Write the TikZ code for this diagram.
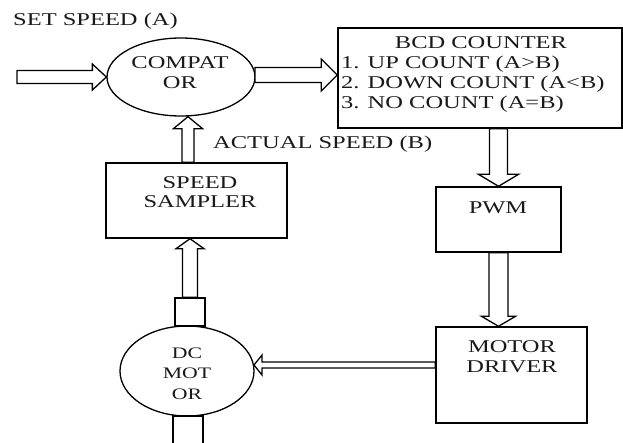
\documentclass[tikz,border=0pt]{standalone}
\usepackage{fontspec}
\setmainfont{Liberation Serif}[FakeStretch=1.36]
\usetikzlibrary{calc,shapes.geometric}
\tikzset{
  box/.style={draw=black, line width=1.4pt, rectangle, inner sep=0pt},
  oval/.style={draw=black, line width=1.3pt, ellipse, inner sep=0pt},
  lbl/.style={inner sep=0pt, anchor=base, text=black!90, font=\fontsize{18}{20}\selectfont},
  lblw/.style={lbl, anchor=base west},
  lbls/.style={lbl, font=\fontsize{16}{20}\selectfont},
  hollow/.style={draw=black, line width=1.3pt, line join=miter, fill=white},
}
\newcommand\hollowarrow[5]{%
  \coordinate (hb) at ($(#2)!#5!(#1)$);
  \draw[hollow] ($(#1)!#3!90:(#2)$) -- ($(hb)!#3!90:(#2)$) -- ($(hb)!#4!90:(#2)$) -- (#2)
    -- ($(hb)!#4!-90:(#2)$) -- ($(hb)!#3!-90:(#2)$) -- ($(#1)!#3!-90:(#2)$) -- cycle;
}
\begin{document}
\begin{tikzpicture}[x=1pt, y=-1pt]
\useasboundingbox (0,0) rectangle (623,442);
% shapes
\node[oval, minimum width=148pt, minimum height=78pt] (cmp) at (181,77) {};
\node[box, minimum width=284pt, minimum height=100pt] (bcd) at (480,78) {};
\node[box, minimum width=181pt, minimum height=75pt] (samp) at (196.5,200.5) {};
\node[box, minimum width=125pt, minimum height=65pt] (pwm) at (498.5,219.5) {};
\node[box, minimum width=151pt, minimum height=96pt] (md) at (511.5,375) {};
\node[oval, minimum width=134pt, minimum height=90pt] (mot) at (187,371) {};
\node[box, minimum width=30pt, minimum height=28pt] (shaftT) at (190,312) {};
\draw[line width=1.4pt] (173,443) -- (173,416) -- (203,416) -- (203,443);
% texts
\node[lblw] (tset) at (13,25) {SET SPEED (A)};
\node[lbl] (tc1) at (180,68) {COMPAT};
\node[lbl] (tc2) at (180,88) {OR};
\node[lbl] (tb0) at (481,48) {BCD COUNTER};
\node[lblw] (tb1) at (341,68) {1. UP COUNT (A>B)};
\node[lblw] (tb2) at (341,88) {2. DOWN COUNT (A<B)};
\node[lblw] (tb3) at (341,108) {3. NO COUNT (A=B)};
\node[lblw] (tact) at (213,148) {ACTUAL SPEED (B)};
\node[lbl] (ts1) at (200,188) {SPEED};
\node[lbl] (ts2) at (200,207) {SAMPLER};
\node[lbl] (tp) at (498,213) {PWM};
\node[lbl] (tm1) at (512,352) {MOTOR};
\node[lbl] (tm2) at (512,372) {DRIVER};
\node[lbls] (td1) at (187,358) {DC};
\node[lbls] (td2) at (187,378) {MOT};
\node[lbls] (td3) at (187,399) {OR};
% connectors
\coordinate (inS) at (17,77);
\hollowarrow{inS}{cmp.west}{6.5pt}{13pt}{14pt}
\coordinate (c2) at (255,75);
\coordinate (c2e) at (bcd.west |- c2);
\hollowarrow{c2}{c2e}{7.5pt}{16pt}{16pt}
\coordinate (b1) at (pwm.north |- bcd.south);
\hollowarrow{b1}{pwm.north}{9pt}{20pt}{12pt}
\coordinate (p2) at (pwm.south |- md.north);
\hollowarrow{pwm.south}{p2}{9.5pt}{17pt}{10pt}
\coordinate (mdout) at (md.west |- 0,365);
\coordinate (mtip) at (254,365);
\hollowarrow{mdout}{mtip}{3pt}{10pt}{8pt}
\coordinate (st) at (shaftT.north |- samp.south);
\hollowarrow{shaftT.north}{st}{7.5pt}{14pt}{10pt}
\coordinate (sc) at (188,0);
\coordinate (sa) at (samp.north -| sc);
\coordinate (sb) at (cmp.south -| sc);
\hollowarrow{sa}{sb}{6pt}{14.5pt}{12pt}
\end{tikzpicture}
\end{document}
